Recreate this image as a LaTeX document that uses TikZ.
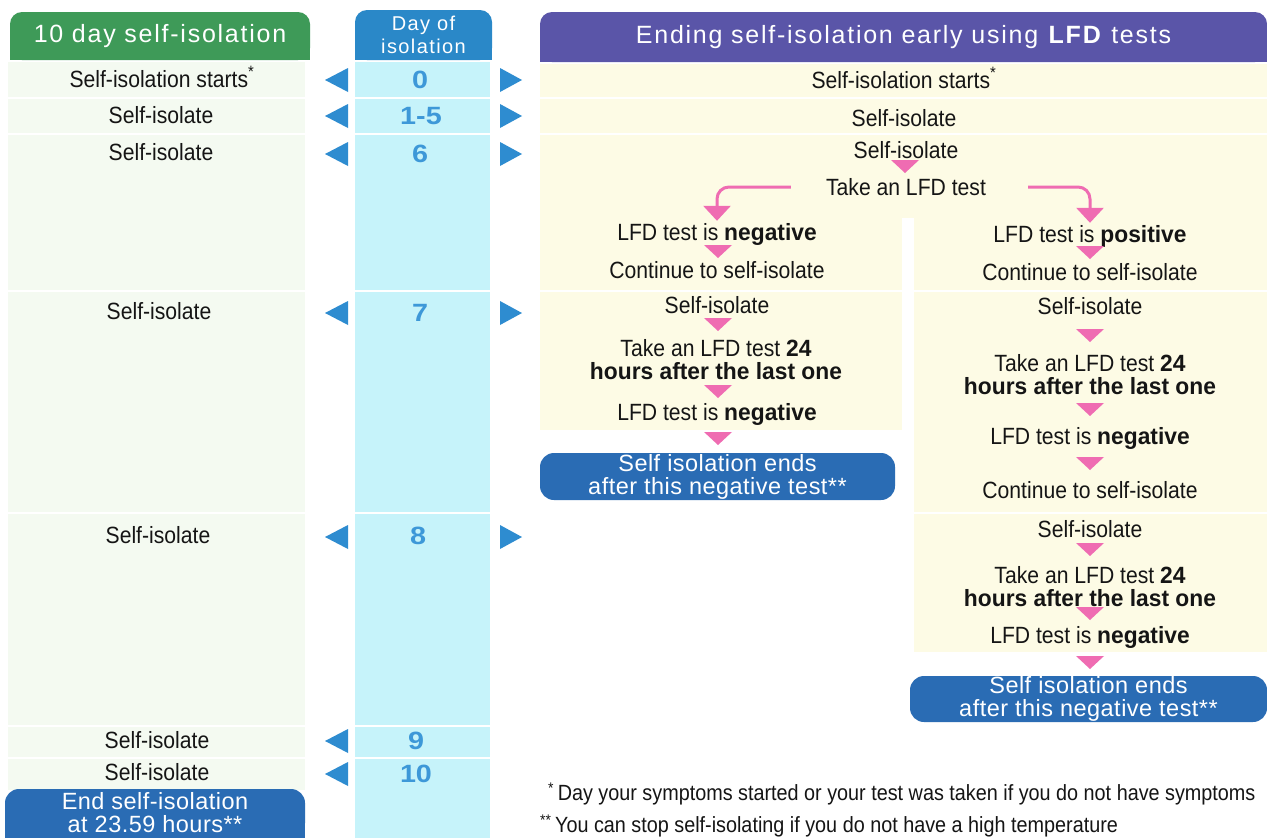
\documentclass[tikz,border=0pt]{standalone}
\usepackage{fontspec}
\usetikzlibrary{arrows.meta}
\setmainfont{Liberation Sans}
\newfontfamily\cond[FakeStretch=0.9]{Liberation Sans}
\newfontfamily\condb[FakeStretch=0.97]{Liberation Sans}
\newfontfamily\numf[FakeStretch=1.15]{Liberation Sans}
\newfontfamily\hdr[LetterSpace=7]{Liberation Sans}
\newfontfamily\btnf[LetterSpace=2]{Liberation Sans}
\newcommand\B[1]{{\condb\bfseries #1}}
\definecolor{hgreen}{HTML}{3E9A58}
\definecolor{hblue}{HTML}{2A88C8}
\definecolor{hpurple}{HTML}{5A55A8}
\definecolor{btn}{HTML}{2A6CB4}
\definecolor{paleg}{HTML}{F4FAF1}
\definecolor{cyanc}{HTML}{C6F3FA}
\definecolor{paley}{HTML}{FDFBE5}
\definecolor{pinkc}{HTML}{EF6CB2}
\definecolor{tblue}{HTML}{2E8CD0}
\definecolor{numc}{HTML}{3D98D8}
\definecolor{txt}{HTML}{151515}
\begin{document}
\begin{tikzpicture}[x=1pt,y=-1pt,
  bodyfont/.style={font={\cond\fontsize{23.5}{23}\selectfont}, text=txt, align=center, inner sep=2pt},
  body/.style={bodyfont, text height=17pt, text depth=5pt},
  num/.style={font={\numf\bfseries\fontsize{25}{25}\selectfont}, text=numc, inner sep=1pt},
  hdrnode/.style={font={\hdr\fontsize{25}{25}\selectfont}, text=white, rounded corners=12pt, inner sep=0pt},
  btnnode/.style={fill=btn, rounded corners=14pt, text=white, align=center, font={\btnf\fontsize{23.5}{23}\selectfont}, inner sep=0pt},
  foot/.style={font={\cond\fontsize{22}{22}\selectfont}, text=txt, anchor=west, inner sep=0pt},
  pinkline/.style={draw=pinkc, line width=3pt, rounded corners=12pt, -{Triangle[width=27pt,length=15pt]}},
  ptri/.pic={\fill[pinkc] (-14,0) -- (14,0) -- (0,13) -- cycle;},
  ltri/.pic={\fill[tblue] (0,0) -- (23,-12) -- (23,12) -- cycle;},
  rtri/.pic={\fill[tblue] (0,-12) -- (22,0) -- (0,12) -- cycle;},
]
\useasboundingbox (0,0) rectangle (1267,838);
\clip (0,0) rectangle (1267,838);
\fill[white] (0,0) rectangle (1267,838);
% backgrounds
\foreach \a/\b in {62/97,99/133,135/290,292/512,514/725,727/757,759/790}
  \fill[paleg] (8,\a) rectangle (305,\b);
\foreach \a/\b in {62/97,99/133,135/290,292/512,514/725,727/757,759/840}
  \fill[cyanc] (355,\a) rectangle (490,\b);
\fill[paley] (540,64) rectangle (1267,97);
\fill[paley] (540,99) rectangle (1267,133);
\fill[paley] (540,135) rectangle (1267,218);
\fill[paley] (540,218) rectangle (902,290);
\fill[paley] (914,218) rectangle (1267,290);
\fill[paley] (540,292) rectangle (902,430);
\fill[paley] (914,292) rectangle (1267,512);
\fill[paley] (914,514) rectangle (1267,652);
% headers
\fill[hgreen] (10,40) rectangle (310,60);
\node[hdrnode, fill=hgreen, minimum width=300pt, minimum height=48pt] (hg) at (160,36) {10 day self-isolation};
\fill[hblue] (355,40) rectangle (492,60);
\node[hdrnode, fill=hblue, minimum width=137pt, minimum height=50pt, align=center, font={\hdr\fontsize{20}{23}\selectfont}] (hb) at (423.5,35) {Day of\\isolation};
\fill[hpurple] (540,40) rectangle (1267,62);
\node[hdrnode, fill=hpurple, minimum width=727pt, minimum height=50pt] (hp) at (903.5,37) {Ending self-isolation early using \textbf{LFD} tests};
% left column
\node[body] (L0) at (162,81) {Self-isolation starts\textsuperscript{*}};
\node[body] (L1) at (161,117) {Self-isolate};
\node[body] (L6) at (161,154) {Self-isolate};
\node[body] (L7) at (159,313) {Self-isolate};
\node[body] (L8) at (158,537) {Self-isolate};
\node[body] (L9) at (157,742) {Self-isolate};
\node[body] (L10) at (157,774) {Self-isolate};
\fill[btn] (5,813) rectangle (305,845);
\node[btnnode, minimum width=300pt, minimum height=48pt] (Lend) at (155,813) {End self-isolation\\at 23.59 hours**};
% middle numbers
\node[num] (N0) at (420,80) {0};
\node[num] (N1) at (421,116) {1-5};
\node[num] (N6) at (420,154) {6};
\node[num] (N7) at (420,313) {7};
\node[num] (N8) at (418,536) {8};
\node[num] (N9) at (416,741) {9};
\node[num] (N10) at (416,774) {10};
\foreach \y in {80,116,154,313,537} { \pic at (325,\y) {ltri}; \pic at (500,\y) {rtri}; }
\foreach \y in {741,774} \pic at (325,\y) {ltri};
% right top
\node[body] (R0) at (904,82) {Self-isolation starts\textsuperscript{*}};
\node[body] (R1) at (904,120) {Self-isolate};
\node[body] (R6) at (906,152) {Self-isolate};
\node[body] (take) at (906,189) {Take an LFD test};
\pic at (905,160) {ptri};
% left branch
\node[body] (a1) at (717,234) {LFD test is \B{negative}};
\node[body] (a2) at (717,272) {Continue to self-isolate};
\node[body] (a3) at (717,307) {Self-isolate};
\node[bodyfont] (a4) at (716,360) {Take an LFD test \B{24}\\\B{hours after the last one}};
\node[body] (a5) at (717,414) {LFD test is \B{negative}};
\node[btnnode, minimum width=355pt, minimum height=47pt] (abtn) at (717.5,476.5) {Self isolation ends\\after this negative test**};
\foreach \y in {245,318,385,432} \pic at (718,\y) {ptri};
% right branch
\node[body] (b1) at (1090,236) {LFD test is \B{positive}};
\node[body] (b2) at (1090,274) {Continue to self-isolate};
\node[body] (b3) at (1090,308) {Self-isolate};
\node[bodyfont] (b4) at (1090,375) {Take an LFD test \B{24}\\\B{hours after the last one}};
\node[body] (b5) at (1090,438) {LFD test is \B{negative}};
\node[body] (b6) at (1090,492) {Continue to self-isolate};
\node[body] (b7) at (1090,531) {Self-isolate};
\node[bodyfont] (b8) at (1090,587) {Take an LFD test \B{24}\\\B{hours after the last one}};
\node[body] (b9) at (1090,637) {LFD test is \B{negative}};
\node[btnnode, minimum width=357pt, minimum height=46pt] (bbtn) at (1088.5,699) {Self isolation ends\\after this negative test**};
\foreach \y in {246,329,403,457,543,607,656} \pic at (1090,\y) {ptri};
% branch connectors
\draw[pinkline] ([xshift=-33pt,yshift=2pt]take.west) -| (a1.north);
\draw[pinkline] ([xshift=40pt,yshift=2pt]take.east) -| (b1.north);
% footnotes
\node[foot] (f1) at (548,794) {\textsuperscript{*}\,Day your symptoms started or your test was taken if you do not have symptoms};
\node[foot] (f2) at (540,826) {\textsuperscript{**}\,You can stop self-isolating if you do not have a high temperature};
\end{tikzpicture}
\end{document}
